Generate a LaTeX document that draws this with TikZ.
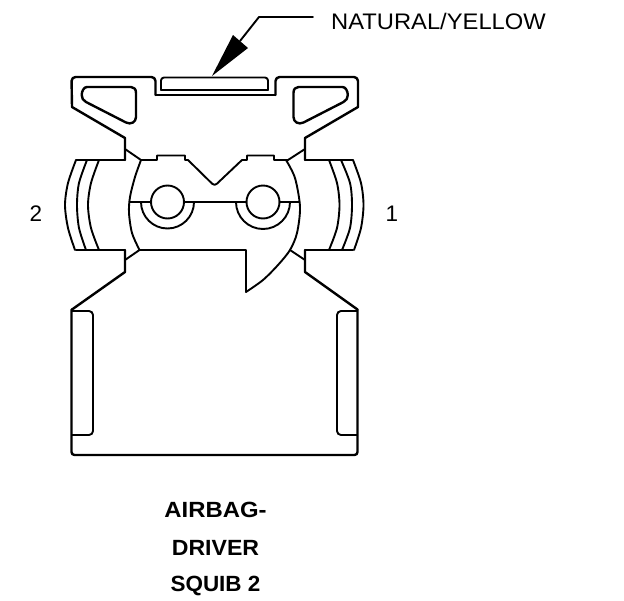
\documentclass[tikz,border=0pt]{standalone}
\usepackage{fontspec}
\setmainfont{Liberation Sans}
\tikzset{
  heavy/.style={line width=2.4pt,line join=round,line cap=round},
  medium/.style={line width=1.9pt,line join=round,line cap=round},
  plain label/.style={inner sep=0pt,font=\fontsize{22.5}{24}\selectfont},
  bold label/.style={inner sep=0pt,font=\fontsize{22}{24}\selectfont\bfseries}
}
\begin{document}
\begin{tikzpicture}[x=1pt,y=-1pt]
\useasboundingbox (0,0) rectangle (624,600);
% Housing outline
\draw[heavy] (125,160) -- (125,138) -- (72,107) [rounded corners=4pt] -- (71.5,77) -- (155.5,77) -- (155.5,95);
\draw[medium] (155.5,95) -- (275.5,95);
\draw[heavy,rounded corners=4pt] (275.5,95) -- (275.5,77) -- (358,77) [sharp corners] -- (358,107) -- (305,138) -- (305,160);
% Centre latch tab
\draw[medium,rounded corners=3pt] (161,90) -- (161,77.5) -- (268,77.5) -- (268,90);
\draw[medium] (161,90) -- (268,90);
% Windows
\draw[heavy] (87,87) -- (131,87) .. controls (134,87) and (136,89) .. (136,93) -- (136,117) .. controls (136,122) and (131,125) .. (126,122.5) -- (86,102) .. controls (83,100.5) and (81.7,98) .. (81.7,95) .. controls (81.7,91) and (84,87) .. (87,87) -- cycle;
\draw[heavy] (342.5,87) -- (298.5,87) .. controls (295.5,87) and (293.5,89) .. (293.5,93) -- (293.5,117) .. controls (293.5,122) and (298.5,125) .. (303.5,122.5) -- (343.5,102) .. controls (346.5,100.5) and (347.8,98) .. (347.8,95) .. controls (347.8,91) and (345.5,87) .. (342.5,87) -- cycle;
% Side collars
\draw[medium] (76,160) -- (125,160);
\draw[medium] (76,250) -- (125,250);
\draw[medium] (305,160) -- (353,160);
\draw[medium] (305,250) -- (353,250);
\draw[medium] plot[smooth] coordinates {(76,160) (68,183) (65,205) (68,228) (75,250)};
\draw[medium] plot[smooth] coordinates {(87,160) (79,183) (77,205) (79,228) (86,250)};
\draw[medium] plot[smooth] coordinates {(99,160) (91,183) (88,205) (91,228) (99,250)};
\draw[medium] plot[smooth] coordinates {(353,160) (361,183) (363.5,205) (361,228) (354,250)};
\draw[medium] plot[smooth] coordinates {(341,160) (350,183) (352,205) (350,228) (342,250)};
\draw[medium] plot[smooth] coordinates {(329,160) (337,183) (339.5,205) (337,228) (329,250)};
% Central body top
\draw[medium] (125,149) -- (141,160) -- (157,160) -- (157,155.5) -- (185,155.5) -- (185,160) -- (188,160);
\draw[medium,rounded corners=3pt] (188,160) -- (214.5,186) -- (242,160);
\draw[medium] (242,160) -- (247,160) -- (247,155.5) -- (274,155.5) -- (274,160) -- (288,160) -- (305,149);
% Central body arcs
\draw[medium] plot[smooth] coordinates {(141,160) (135,177) (130,197) (129,213) (132,233) (139.5,250)};
\draw[medium] plot[smooth] coordinates {(286,160) (295,178) (300,207) (297,233) (290,250) (278,265) (263,280) (246,292)};
\draw[medium] (125,260) -- (139.5,250) -- (141,250) -- (246,250) -- (246,292);
\draw[medium] (290,250) -- (305,260);
% Contacts
\draw[medium] (130,202) -- (150.5,202);
\draw[medium] (184.5,202) -- (246.5,202);
\draw[medium] (279.5,202) -- (299.5,202);
\draw[medium] (167.5,202) circle[radius=16.5];
\draw[medium] (263,202) circle[radius=16.5];
\draw[medium] (141,202) arc[start angle=180,end angle=0,radius=26.5];
\draw[medium] (236,202) arc[start angle=180,end angle=0,radius=27];
% Lower housing
\draw[heavy] (125,250) -- (125,272) -- (72,309.5);
\draw[heavy] (305,250) -- (305,272) -- (357.5,309.5);
\draw[heavy,rounded corners=3pt] (71.5,309.5) -- (71.5,455) -- (357.5,455) -- (357.5,309.5);
\draw[medium,rounded corners=4pt] (72,311) -- (93,311) -- (93,435) -- (72,435);
\draw[medium,rounded corners=4pt] (357,311) -- (337,311) -- (337,435) -- (357,435);
% Leader
\coordinate (leaderEnd) at (313,17);
\coordinate (leaderBend) at (259,17);
\coordinate (leaderHead) at (240,41);
\draw[medium] (leaderEnd) -- (leaderBend) -- (leaderHead);
\fill (212,76) -- (233,35) -- (248,48) -- cycle;
% Labels
\node[plain label,anchor=west,transform shape,xscale=1.055] (wirecolor) at (331,21) {NATURAL/YELLOW};
\node[plain label] (pinTwo) at (36,214) {2};
\node[plain label] (pinOne) at (392,214) {1};
\node[bold label,transform shape,xscale=1.085] (nameA) at (215.5,509.5) {AIRBAG-};
\node[bold label,transform shape,xscale=1.05] (nameB) at (215.5,547.5) {DRIVER};
\node[bold label,transform shape,xscale=1.02] (nameC) at (215.5,585.5) {SQUIB 2};
\end{tikzpicture}
\end{document}
